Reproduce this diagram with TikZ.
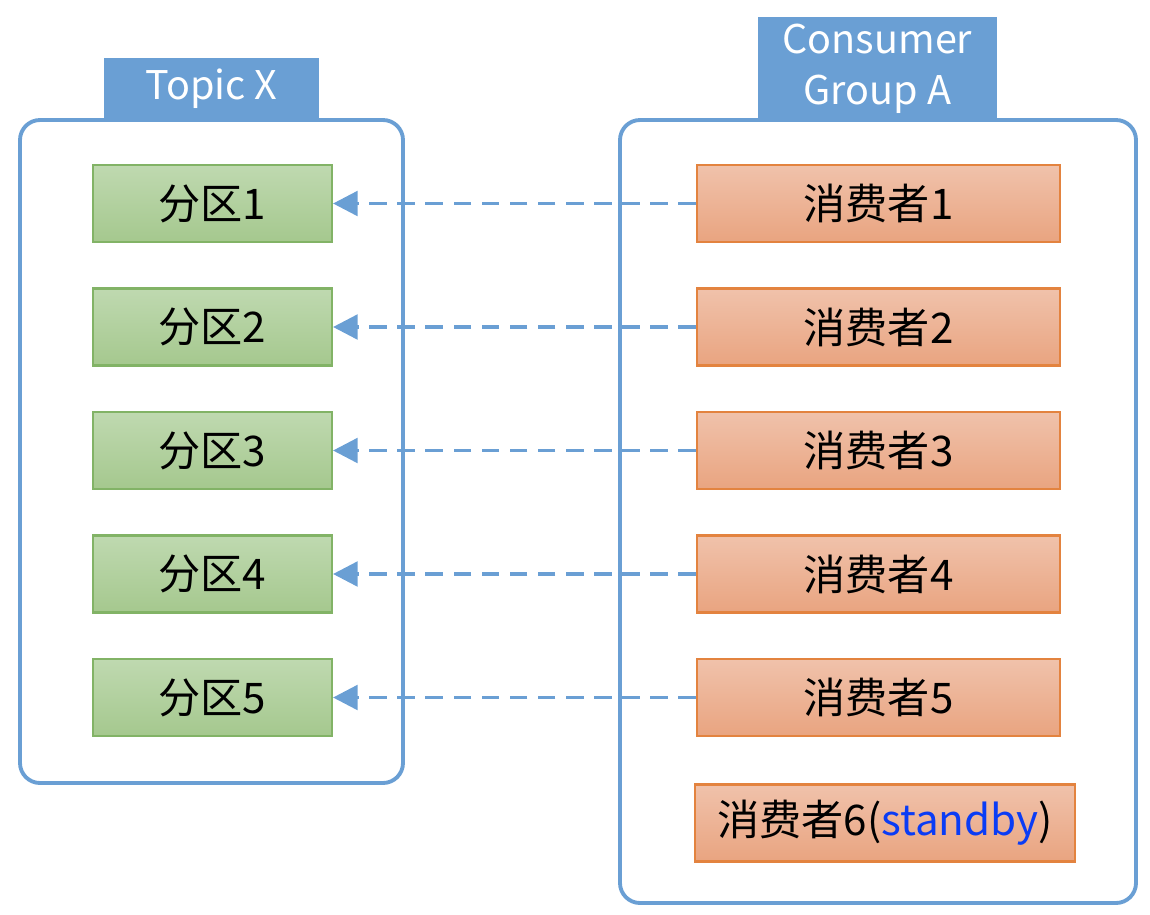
\documentclass[tikz,border=0pt]{standalone}
\usepackage{fontspec}
\setmainfont{Noto Sans CJK SC}
\usetikzlibrary{arrows.meta}
\definecolor{grpblue}{HTML}{6A9FD4}
\definecolor{parttop}{HTML}{BFD9B0}
\definecolor{partbot}{HTML}{A5C88E}
\definecolor{partline}{HTML}{82B366}
\definecolor{constop}{HTML}{F0C2AB}
\definecolor{consbot}{HTML}{E9A480}
\definecolor{consline}{HTML}{E3833F}
\definecolor{sbyblue}{HTML}{0A3CF5}
\begin{document}
\begin{tikzpicture}[x=0.02cm, y=-0.02cm, font=\fontsize{24}{28}\selectfont,
  part/.style={draw=partline, line width=1.2pt, top color=parttop, bottom color=partbot, minimum width=4.78cm, minimum height=1.54cm, inner sep=0pt},
  cons/.style={draw=consline, line width=1.2pt, top color=constop, bottom color=consbot, minimum width=7.26cm, minimum height=1.54cm, inner sep=0pt},
  grp/.style={draw=grpblue, line width=2.2pt, rounded corners=0.4cm},
  tag/.style={fill=grpblue, text=white, inner sep=0pt, align=center, font=\fontsize{22.5}{27}\selectfont},
  fetch/.style={draw=grpblue, line width=2pt, dash pattern=on 10pt off 6pt, -{Triangle[length=14pt, width=14pt]}}]
\useasboundingbox (0,0) rectangle (1150,914);
% containers
\draw[grp] (20,120) rectangle (403,783);
\draw[grp] (620,120) rectangle (1136,903);
\node[tag, minimum width=4.3cm, minimum height=1.24cm] (topic) at (211.5,89) {Topic X};
\node[tag, minimum width=4.78cm, minimum height=2.1cm] (group) at (877.5,69) {Consumer\\[2pt]Group A};
% partitions
\node[part] (p1) at (212.5,203.5) {分区1};
\node[part] (p2) at (212.5,327) {分区2};
\node[part] (p3) at (212.5,450.5) {分区3};
\node[part] (p4) at (212.5,574) {分区4};
\node[part] (p5) at (212.5,697.5) {分区5};
% consumers
\node[cons] (c1) at (878.5,203.5) {消费者1};
\node[cons] (c2) at (878.5,327) {消费者2};
\node[cons] (c3) at (878.5,450.5) {消费者3};
\node[cons] (c4) at (878.5,574) {消费者4};
\node[cons] (c5) at (878.5,697.5) {消费者5};
\node[cons, minimum width=7.6cm] (c6) at (885,823) {消费者6(\textcolor{sbyblue}{standby})};
% assignment
\draw[fetch] (c1) -- (p1);
\draw[fetch] (c2) -- (p2);
\draw[fetch] (c3) -- (p3);
\draw[fetch] (c4) -- (p4);
\draw[fetch] (c5) -- (p5);
\end{tikzpicture}
\end{document}
